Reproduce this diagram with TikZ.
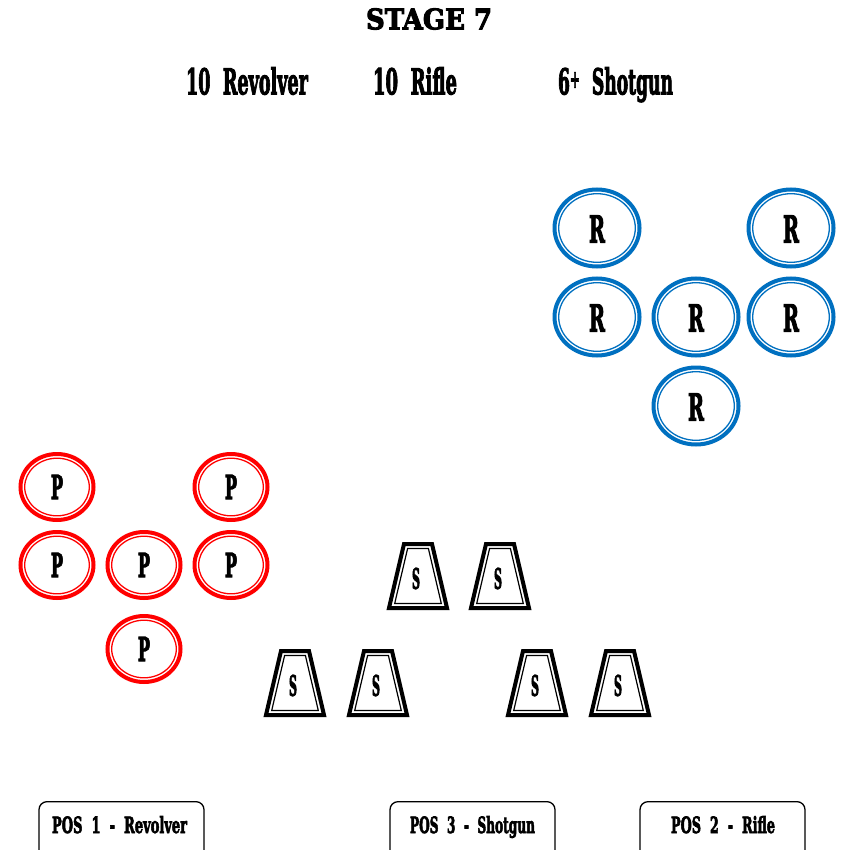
\documentclass[tikz,border=0pt]{standalone}
\usepackage{fontspec}
\setmainfont{DejaVu Serif}
\newfontfamily\heavy{DejaVu Serif}[BoldFeatures={FakeBold=3.5}]
\usepackage{graphicx}
\newcommand\fitt[3]{\resizebox{#1}{#2}{\heavy\bfseries #3}}
\definecolor{rblue}{HTML}{0070C0}
\definecolor{pred}{HTML}{FF0000}
\tikzset{
  txt/.style={inner sep=0pt, outer sep=0pt, anchor=base},
  ltr/.style={inner sep=0pt, outer sep=0pt},
  posbox/.style={draw=black, line width=1.3pt, rounded corners=8pt, minimum width=165pt, minimum height=60pt, inner sep=0pt, anchor=north},
  rtgt/.pic={
    \draw[rblue, line width=4pt] (0,0) ellipse [x radius=42.5, y radius=38.5];
    \draw[rblue, line width=1.3pt] (0,0) ellipse [x radius=38.3, y radius=34.3];
    \node[ltr] (-l) at (0,1) {\fitt{16pt}{27pt}{R}};
  },
  ptgt/.pic={
    \draw[pred, line width=4pt] (0,0) ellipse [x radius=36.5, y radius=33];
    \draw[pred, line width=1.3pt] (0,0) ellipse [x radius=32.3, y radius=28.8];
    \node[ltr] (-l) at (0,0) {\fitt{12pt}{24pt}{P}};
  },
  stgt/.pic={
    \draw[black, line width=4pt, line join=miter] (-29,32) -- (-14,-32) -- (14,-32) -- (29,32) -- cycle;
    \draw[black, line width=1.2pt] (-23.3,27.5) -- (-10.4,-27.5) -- (10.4,-27.5) -- (23.3,27.5) -- cycle;
    \node[ltr] (-l) at (-2,2.5) {\fitt{8pt}{21pt}{S}};
  }
}
\begin{document}
\begin{tikzpicture}[x=1pt,y=-1pt]
\clip (0,0) rectangle (842,850);
\fill[white] (0,0) rectangle (842,850);

% titles
\node[txt] (title) at (429,29.3) {\fitt{126pt}{21pt}{STAGE 7}};
\node[txt] (hrev) at (247,94.3) {\fitt{122pt}{27pt}{10\ \ Revolver}};
\node[txt] (hrif) at (415,94.3) {\fitt{84pt}{27pt}{10\ \ Rifle}};
\node[txt] (hsho) at (615.5,94.3) {\fitt{115pt}{27pt}{6\raisebox{0.35ex}{\scriptsize+}\ \ Shotgun}};

% rifle targets
\pic (r1) at (597,228) {rtgt};
\pic (r2) at (791,228) {rtgt};
\pic (r3) at (597,317) {rtgt};
\pic (r4) at (696,317) {rtgt};
\pic (r5) at (791,317) {rtgt};
\pic (r6) at (696,406) {rtgt};

% pistol targets
\pic (p1) at (57,487) {ptgt};
\pic (p2) at (231,487) {ptgt};
\pic (p3) at (57,565) {ptgt};
\pic (p4) at (144,565) {ptgt};
\pic (p5) at (231,565) {ptgt};
\pic (p6) at (144,649) {ptgt};

% shotgun targets
\pic (s1) at (418,576) {stgt};
\pic (s2) at (500,576) {stgt};
\pic (s3) at (295,683) {stgt};
\pic (s4) at (378,683) {stgt};
\pic (s5) at (537,683) {stgt};
\pic (s6) at (620,683) {stgt};

% positions
\node[posbox] (b1) at (121.5,801) {};
\node[posbox] (b3) at (472.5,801) {};
\node[posbox] (b2) at (722.5,801) {};
\node[txt] (t1) at (119.5,833) {\fitt{135pt}{17pt}{POS\ \ 1\ \ -\ \ Revolver}};
\node[txt] (t3) at (472.5,833) {\fitt{125pt}{17pt}{POS\ \ 3\ \ -\ \ Shotgun}};
\node[txt] (t2) at (723,833) {\fitt{104pt}{17pt}{POS\ \ 2\ \ -\ \ Rifle}};
\end{tikzpicture}
\end{document}
